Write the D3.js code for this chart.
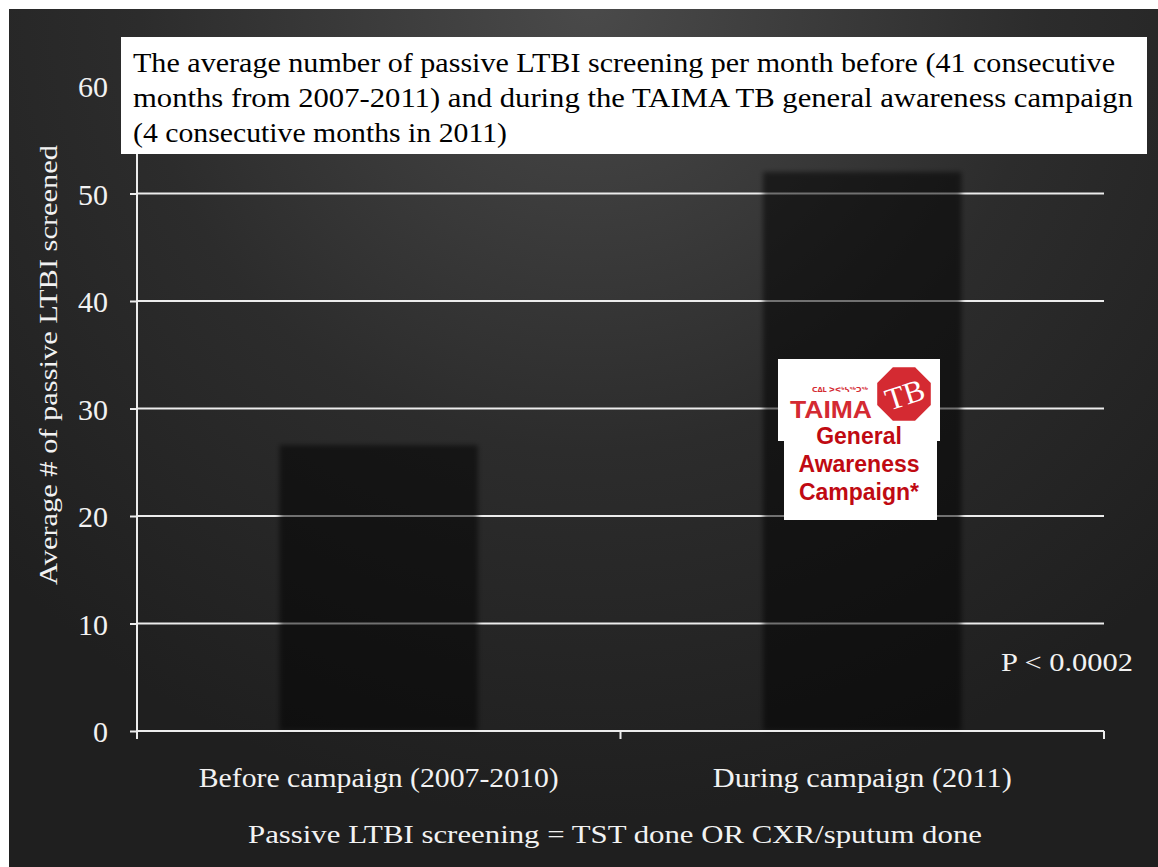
<!DOCTYPE html>
<html>
<head>
<meta charset="utf-8">
<script src="https://cdn.jsdelivr.net/npm/d3@7"></script>
<style>
  body { margin: 0; background: #fff; }
  svg { display: block; }
</style>
</head>
<body>
<script>
// Chart data
const categories = ["Before campaign (2007-2010)", "During campaign (2011)"];
const averages = [26.6, 52.0];
const yTicks = [0, 10, 20, 30, 40, 50, 60];
const gridValues = [10, 20, 30, 40, 50, 60];
const titleLines = [
  "The average number of passive LTBI screening per month before (41 consecutive",
  "months from 2007-2011) and during the TAIMA TB general awareness campaign",
  "(4 consecutive months in 2011)"
];
const yLabel = "Average # of passive LTBI screened";
const pValue = "P < 0.0002";
const footNote = "Passive LTBI screening = TST done OR CXR/sputum done";
const logoLines = ["General", "Awareness", "Campaign*"];

// SVG dimensions
let svgWidth = 1158;
let svgHeight = 867;
let margin = { top: 86, right: 54, bottom: 136, left: 137 };
let chartWidth = svgWidth - margin.left - margin.right;
let chartHeight = svgHeight - margin.top - margin.bottom;
const serif = "'Liberation Serif', 'DejaVu Serif', serif";

let svg = d3.select("body").append("svg")
    .attr("width", svgWidth)
    .attr("height", svgHeight);

let defs = svg.append("defs");
let grad = defs.append("radialGradient")
    .attr("id", "bg").attr("gradientUnits", "userSpaceOnUse")
    .attr("cx", 590).attr("cy", 0).attr("r", 820);
grad.append("stop").attr("offset", "0%").attr("stop-color", "#4a4a4a");
grad.append("stop").attr("offset", "55%").attr("stop-color", "#2c2c2c");
grad.append("stop").attr("offset", "100%").attr("stop-color", "#1f1f1f");
defs.append("filter").attr("id", "soft")
    .attr("x", "-10%").attr("y", "-10%").attr("width", "120%").attr("height", "120%")
  .append("feGaussianBlur").attr("stdDeviation", 2.5);

// dark panel with white border at top/left
svg.append("rect").attr("width", svgWidth).attr("height", svgHeight).attr("fill", "#fff");
svg.append("rect").attr("x", 9).attr("y", 9)
    .attr("width", svgWidth - 9).attr("height", svgHeight - 9)
    .attr("fill", "url(#bg)");

let chartGroup = svg.append("g")
    .attr("transform", `translate(${margin.left}, ${margin.top})`);

// scales
let xScale = d3.scaleBand().domain(categories).range([0, chartWidth])
    .paddingInner(0.59).paddingOuter(0.295);
let yScale = d3.scaleLinear().domain([0, 60]).range([chartHeight, 0]);

// gridlines
chartGroup.selectAll(".grid").data(gridValues).enter().append("line")
    .attr("class", "grid")
    .attr("x1", 0).attr("x2", chartWidth)
    .attr("y1", d => yScale(d)).attr("y2", d => yScale(d))
    .attr("stroke", "#ececec").attr("stroke-width", 2);

// bars (translucent, soft edges)
chartGroup.selectAll(".bar").data(averages).enter().append("rect")
    .attr("class", "bar")
    .attr("x", (d, i) => xScale(categories[i]))
    .attr("y", d => yScale(d))
    .attr("width", xScale.bandwidth())
    .attr("height", d => chartHeight - yScale(d))
    .attr("fill", "#030303").attr("fill-opacity", 0.52)
    .attr("filter", "url(#soft)");

// y axis
let yAxis = d3.axisLeft(yScale).tickValues(yTicks).tickSize(7).tickPadding(22);
let yG = chartGroup.append("g").call(yAxis);
yG.select(".domain").attr("stroke", "#ececec").attr("stroke-width", 2)
    .attr("d", `M0,${chartHeight}V0`);
yG.selectAll(".tick line").attr("stroke", "#ececec").attr("stroke-width", 2);
yG.selectAll(".tick text").attr("fill", "#f2f2f2").attr("dy", "0.36em")
    .style("font-family", serif).style("font-size", "30px");

// x axis
let xAxis = d3.axisBottom(xScale).tickSize(0).tickPadding(37);
let xG = chartGroup.append("g").attr("transform", `translate(0, ${chartHeight})`).call(xAxis);
xG.select(".domain").attr("stroke", "#ececec").attr("stroke-width", 2)
    .attr("d", `M0,0H${chartWidth}`);
const xLabelWidths = [360, 299];
xG.selectAll(".tick text").attr("fill", "#f2f2f2")
    .style("font-family", serif).style("font-size", "27px")
    .attr("textLength", (d, i) => xLabelWidths[i]).attr("lengthAdjust", "spacingAndGlyphs");
chartGroup.selectAll(".xtick").data([0, chartWidth / 2, chartWidth]).enter().append("line")
    .attr("class", "xtick")
    .attr("x1", d => d).attr("x2", d => d).attr("y1", chartHeight).attr("y2", chartHeight + 8)
    .attr("stroke", "#ececec").attr("stroke-width", 2);

// y label
svg.append("text")
    .attr("transform", "translate(57, 365) rotate(-90)")
    .attr("text-anchor", "middle")
    .attr("fill", "#f2f2f2")
    .style("font-family", serif).style("font-size", "26px")
    .attr("textLength", 440).attr("lengthAdjust", "spacingAndGlyphs")
    .text(yLabel);

// title box
svg.append("rect").attr("x", 121).attr("y", 37).attr("width", 1026).attr("height", 117).attr("fill", "#fff");
const titleWidths = [982, 1000, 374];
svg.selectAll(".title").data(titleLines).enter().append("text")
    .attr("class", "title")
    .attr("x", 133).attr("y", (d, i) => 72 + i * 35)
    .attr("fill", "#000")
    .style("font-family", serif).style("font-size", "27px")
    .attr("textLength", (d, i) => titleWidths[i]).attr("lengthAdjust", "spacingAndGlyphs")
    .text(d => d);

// p value
svg.append("text").attr("x", 1001).attr("y", 671)
    .attr("fill", "#f2f2f2")
    .style("font-family", serif).style("font-size", "26px")
    .attr("textLength", 132).attr("lengthAdjust", "spacingAndGlyphs")
    .text(pValue);

// footnote
svg.append("text").attr("x", 615).attr("y", 843)
    .attr("text-anchor", "middle").attr("fill", "#f2f2f2")
    .style("font-family", serif).style("font-size", "26px")
    .attr("textLength", 734).attr("lengthAdjust", "spacingAndGlyphs")
    .text(footNote);

// TAIMA TB logo
let logo = svg.append("g");
logo.append("rect").attr("x", 778).attr("y", 359).attr("width", 162).attr("height", 82).attr("fill", "#fff");
logo.append("rect").attr("x", 784).attr("y", 430).attr("width", 153).attr("height", 90).attr("fill", "#fff");
let oct = d3.range(8).map(k => {
  let a = Math.PI / 8 + k * Math.PI / 4;
  return [904 + 29 * Math.cos(a), 394 + 29 * Math.sin(a)];
});
logo.append("polygon").attr("points", oct.map(p => p.join(",")).join(" ")).attr("fill", "#d42a32");
logo.append("text").attr("x", 905).attr("y", 405)
    .attr("text-anchor", "middle").attr("fill", "#fff")
    .attr("transform", "rotate(-18, 905, 395)")
    .style("font-family", serif).style("font-size", "31px")
    .text("TB");
logo.append("text").attr("x", 790).attr("y", 418)
    .attr("fill", "#d42a32")
    .style("font-family", "'Liberation Sans', Arial, sans-serif").style("font-size", "23px")
    .style("font-weight", "bold")
    .attr("textLength", 82).attr("lengthAdjust", "spacingAndGlyphs")
    .text("TAIMA");
logo.append("text").attr("x", 812).attr("y", 392)
    .attr("fill", "#d42a32")
    .style("font-family", "'DejaVu Sans', sans-serif").style("font-size", "7px")
    .style("font-weight", "bold")
    .attr("textLength", 56).attr("lengthAdjust", "spacingAndGlyphs")
    .text("ᑕᐃᒪ ᐳᕙᒃᓴᖅᑐᖅ");
logo.selectAll(".logoline").data(logoLines).enter().append("text")
    .attr("class", "logoline")
    .attr("x", 859).attr("y", (d, i) => 444 + i * 28)
    .attr("text-anchor", "middle").attr("fill", "#c00a12")
    .style("font-family", "'Liberation Sans', Arial, sans-serif").style("font-size", "23px")
    .style("font-weight", "bold")
    .text(d => d);
</script>
</body>
</html>
